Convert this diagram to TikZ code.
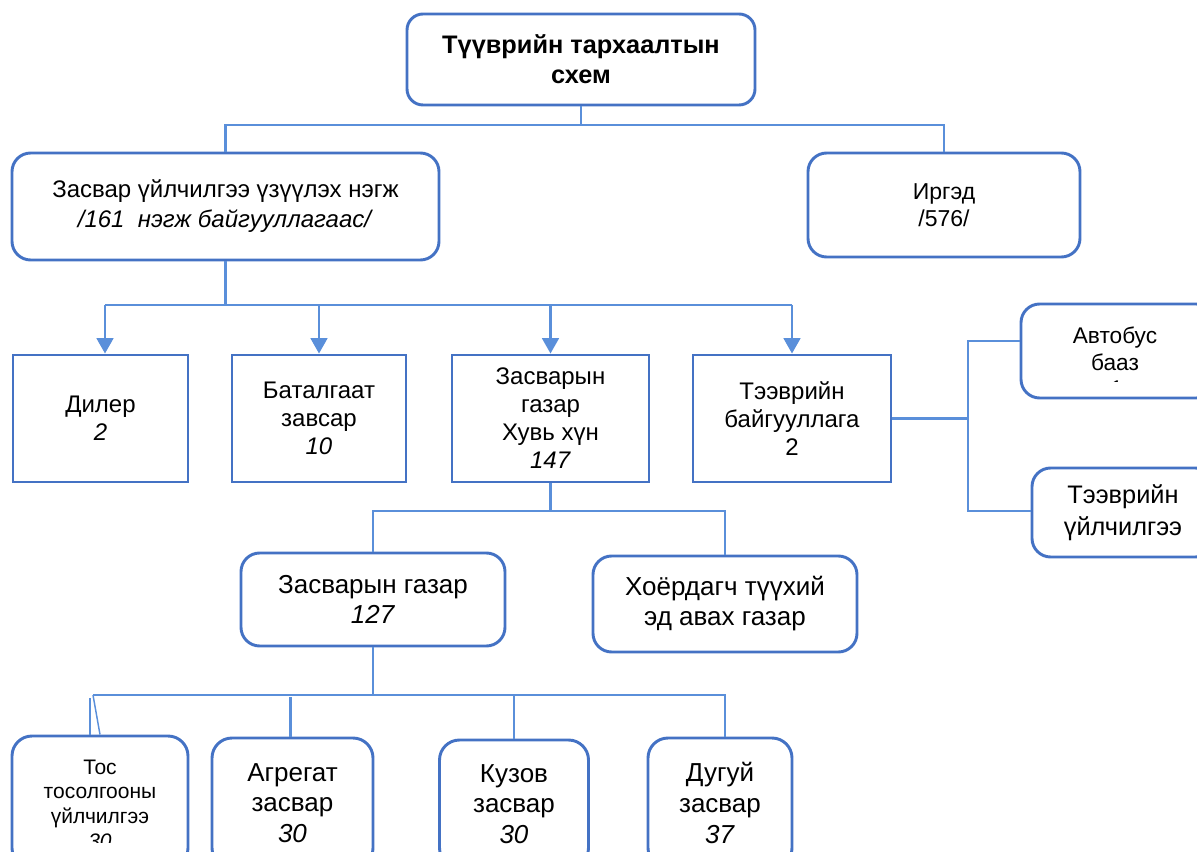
\documentclass[tikz,border=0pt]{standalone}
\usepackage{fontspec}
\setmainfont{Liberation Sans}
\usetikzlibrary{arrows.meta}
\definecolor{boxblue}{HTML}{4472C4}
\definecolor{lineblue}{HTML}{5A8FDA}
\newcommand{\setfs}[2]{\fontsize{#1}{#2}\selectfont}

\begin{document}
\begin{tikzpicture}[x=0.75pt,y=-0.75pt,
  sz/.style 2 args={minimum width=#1*0.75pt, minimum height=#2*0.75pt},
  rbox/.style={draw=boxblue, line width=2.2pt, rounded corners=14pt, inner sep=0pt, align=center, fill=white},
  sbox/.style={draw=boxblue, line width=2.2pt, inner sep=0pt, align=center, fill=white},
  lbl/.style={inner sep=0pt, align=center},
  link/.style={draw=lineblue, line width=1.8pt},
  arr/.style={link, -{Triangle[width=12.5pt,length=11.5pt]}},
  f24/.style={font=\setfs{18}{21}},
  f26/.style={font=\setfs{19.5}{22.5}},
]
\useasboundingbox (0,0) rectangle (1197,852);
\clip (0,0) rectangle (1197,852);

% top level
\node[rbox, sz={348}{91}, rounded corners=12pt, font=\setfs{19}{22.5}\bfseries] (title) at (581,59.5)
  {Түүврийн тархаалтын\\схем};
\node[rbox, sz={427}{107}, font=\setfs{18}{22.5}] (zasvar) at (225.5,206.5)
  {Засвар үйлчилгээ үзүүлэх нэгж\\\textit{/161\ \ нэгж байгууллагаас/}};
\node[rbox, sz={272}{104}, font=\setfs{17.25}{20.5}] (irged) at (944,205) {Иргэд\\/576/};

% second level
\node[sbox, sz={175}{127}, f24] (diler) at (100.5,418.5) {Дилер\\\textit{2}};
\node[sbox, sz={174}{127}, f24] (batal) at (319,418.5) {Баталгаат\\завсар\\\textit{10}};
\node[sbox, sz={197}{127}, f24] (huv) at (550.5,418.5) {Засварын\\газар\\Хувь хүн\\\textit{147}};
\node[sbox, sz={198}{127}, f24] (teever) at (792,418.5) {Тээврийн\\байгууллага\\2};

% transport branch
\node[rbox, sz={194}{94}] (avtobus) at (1118,351) {};
\begin{scope}
  \clip (1030,310) rectangle (1200,382);
  \node[lbl, font=\setfs{17}{20}] (avtobustext) at (1115,362) {Автобус\\бааз\\\textit{1}};
\end{scope}
\node[rbox, sz={182}{89}, font=\setfs{19}{24}] (uilch) at (1123,512.5) {Тээврийн\\үйлчилгээ};

% third level
\node[rbox, sz={264}{93}, f26] (zgazar) at (373,599.5) {Засварын газар\\\textit{127}};
\node[rbox, sz={264}{96}, f26] (hoer) at (725,604) {Хоёрдагч түүхий\\эд авах газар};

% bottom level
\node[rbox, sz={176}{132}, rounded corners=15pt] (tos) at (100,802) {};
\begin{scope}
  \clip (20,740) rectangle (180,842);
  \node[lbl, font=\setfs{15.75}{18.5}] (tostext) at (100,804) {Тос\\тосолгооны\\үйлчилгээ\\\textit{30}};
\end{scope}
\node[rbox, sz={161}{130}, rounded corners=15pt, font=\setfs{19.5}{23}] (agr) at (292.5,803) {Агрегат\\засвар\\\textit{30}};
\node[rbox, sz={149}{128}, rounded corners=15pt, font=\setfs{19.5}{23}] (kuzov) at (514,804) {Кузов\\засвар\\\textit{30}};
\node[rbox, sz={144}{130}, rounded corners=15pt, font=\setfs{19.5}{23}] (dugui) at (720,803) {Дугуй\\засвар\\\textit{37}};

% junction points
\coordinate (j1) at (581,125);
\coordinate (j2) at (225.5,305);
\coordinate (j2l) at (105,305);
\coordinate (j2r) at (792,305);
\coordinate (j3) at (968,418.5);
\coordinate (j3a) at (968,341);
\coordinate (j3b) at (968,511);
\coordinate (j4) at (550.5,511);
\coordinate (j5) at (373,695);
\coordinate (j5l) at (93,695);
\coordinate (j5r) at (725,695);
\coordinate (tosa) at (90,698);
\coordinate (agra) at (290.5,697);

% connectors
\draw[link] (title.south) -- (j1);
\draw[link] (zasvar.north) |- (j1) -| (irged.north);

\draw[link] (zasvar.south) -- (j2);
\draw[link] (j2l) -- (j2r);
\draw[arr] (j2l) -- (j2l |- diler.north);
\draw[arr] (j2 -| batal.north) -- (batal.north);
\draw[arr] (j2 -| huv.north) -- (huv.north);
\draw[arr] (j2r) -- (teever.north);

\draw[link] (teever.east) -- (j3);
\draw[link] (avtobus.west |- j3a) -- (j3a) -- (j3b) -- (uilch.west |- j3b);

\draw[link] (huv.south) -- (j4);
\draw[link] (zgazar.north) |- (j4) -| (hoer.north);

\draw[link] (zgazar.south) -- (j5);
\draw[link] (j5l) -- (j5r) -- (j5r |- dugui.north);
\draw[link] (j5 -| kuzov.north) -- (kuzov.north);
\draw[link, line width=2.2pt] (agra) -- (agra |- agr.north);
\draw[link, line width=2pt] (tosa) -- (tosa |- tos.north);
\draw[link, line width=1.1pt] (j5l) -- (tos.north);
\end{tikzpicture}
\end{document}
